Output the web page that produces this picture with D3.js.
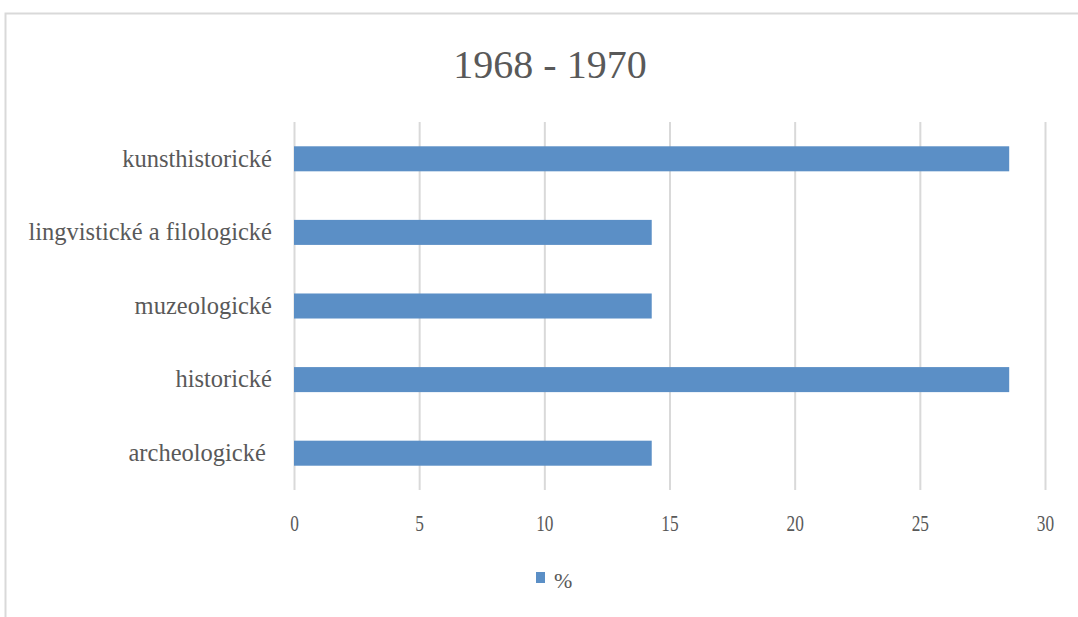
<!DOCTYPE html>
<html><head><meta charset="utf-8">
<script src="https://cdn.jsdelivr.net/npm/d3@7"></script>
<style>body{margin:0;background:#fff}svg{display:block}text{white-space:pre}</style>
</head><body>
<svg id="c" width="1078" height="617"></svg>
<script>
const title = "1968 - 1970";
const categories = ["kunsthistorické","lingvistické a filologické","muzeologické","historické","archeologické "];
const values = [28.57, 14.29, 14.29, 28.57, 14.29];
const xTicks = [0,5,10,15,20,25,30];
const seriesName = "%";

const svg = d3.select("#c");
const font = "'Liberation Serif', 'DejaVu Serif', serif";
const textColor = "#595959";
const barColor = "#5B8FC6";

svg.append("rect").attr("x",5.5).attr("y",13.5).attr("width",1200).attr("height",800)
  .attr("fill","#fff").attr("stroke","#d9d9d9").attr("stroke-width",2);

const x = d3.scaleLinear().domain([0,30]).range([294,1045]);
const y = d3.scaleBand().domain(categories).range([122,490]).paddingInner(0.66).paddingOuter(0.33);

// gridlines
svg.append("g").selectAll("line").data(xTicks).join("line")
  .attr("x1",d=>x(d)+0.5).attr("x2",d=>x(d)+0.5).attr("y1",122).attr("y2",490)
  .attr("stroke","#d9d9d9").attr("stroke-width",2);

// bars
svg.append("g").selectAll("rect").data(values).join("rect")
  .attr("x",x(0)).attr("y",(d,i)=>y(categories[i]))
  .attr("width",d=>x(d)-x(0)).attr("height",y.bandwidth())
  .attr("fill",barColor);

// x axis labels
const xa = svg.append("g").attr("transform","translate(0,531)")
  .call(d3.axisBottom(x).tickValues(xTicks).tickSize(0).tickPadding(0));
xa.select(".domain").remove();
xa.selectAll("text").attr("font-family",font).attr("font-size",24).attr("fill",textColor)
  .attr("dy",0).attr("transform","scale(0.72,1)");

// y axis labels
const ya = svg.append("g").attr("transform","translate(272,0)")
  .call(d3.axisLeft(y).tickSize(0).tickPadding(0));
ya.select(".domain").remove();
ya.selectAll("text").attr("font-family",font).attr("font-size",24.5).attr("fill",textColor)
  .attr("dy","0.32em");

// title
svg.append("text").attr("x",550).attr("y",78).attr("text-anchor","middle")
  .attr("font-family",font).attr("font-size",40).attr("fill",textColor)
  .text(title);

// legend
svg.append("rect").attr("x",536).attr("y",572).attr("width",9).attr("height",11).attr("fill",barColor);
svg.append("text").attr("x",554).attr("y",588).attr("font-family",font).attr("font-size",22)
  .attr("fill",textColor).text(seriesName);
</script>
</body></html>
